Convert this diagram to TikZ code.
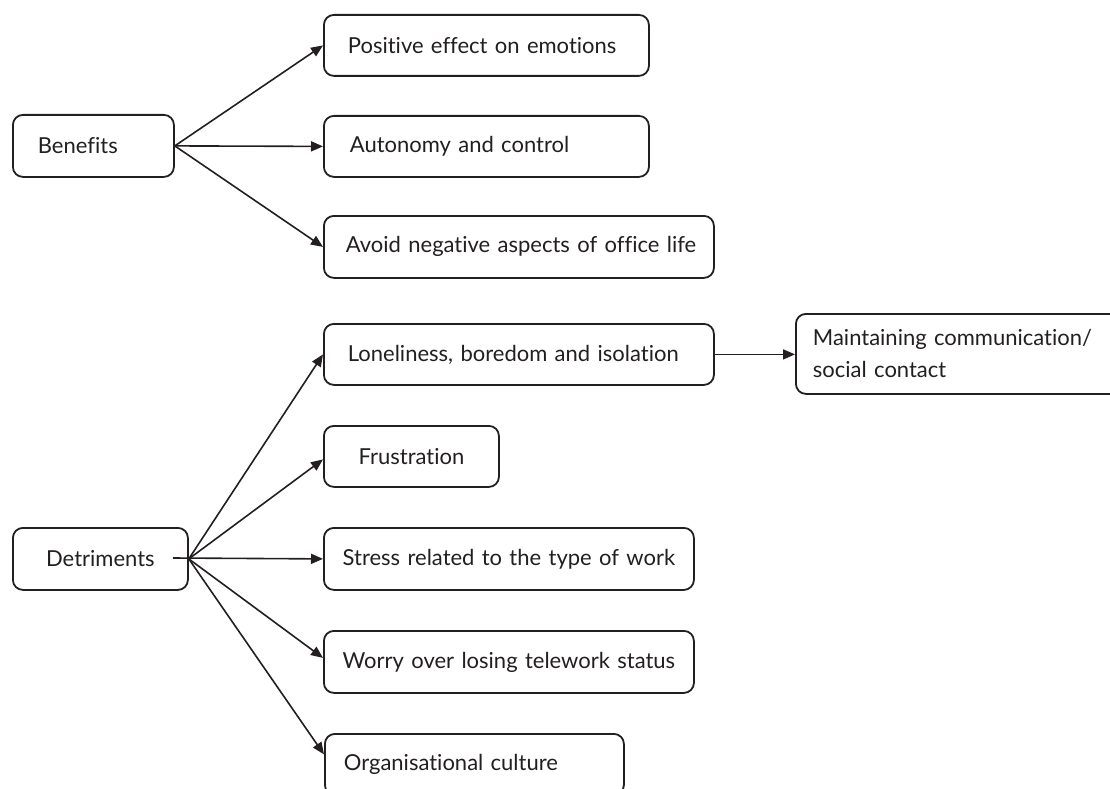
\documentclass[tikz,border=0pt]{standalone}
\usepackage{fontspec}
\setmainfont[Ligatures=NoCommon]{Lato}
\usetikzlibrary{arrows.meta}
\definecolor{ink}{HTML}{231F20}
\begin{document}
\begin{tikzpicture}[x=1pt,y=-1pt,
  box/.style={draw=ink, line width=1.8pt, rounded corners=10pt, anchor=north west,
    inner ysep=0pt, text=ink, font=\fontsize{22}{32}\selectfont},
  link/.style={draw=ink, line width=1.6pt, -{Triangle[length=12pt,width=10pt]}}
]
\useasboundingbox (0,0) rectangle (1110,789);
\clip (0,0) rectangle (1110,789);

% roots
\node[box, minimum height=62pt, inner xsep=25pt, text width=111pt, align=left] (ben) at (12,114) {\mbox{Benefits}};
\node[box, minimum height=62pt, inner xsep=10pt, text width=155pt, align=center] (det) at (12,527) {\mbox{Detriments}};

% benefits
\node[box, minimum height=61pt, inner xsep=24pt, text width=277pt, align=left] (pos) at (323,14) {\mbox{Positive effect on emotions}};
\node[box, minimum height=61pt, inner xsep=26pt, text width=273pt, align=left] (aut) at (323,115) {\mbox{Autonomy and control}};
\node[box, minimum height=62pt, inner xsep=22pt, text width=346pt, align=left] (avo) at (323,215) {\mbox{Avoid negative aspects of office life}};

% detriments
\node[box, minimum height=61pt, inner xsep=24pt, text width=342pt, align=left] (lon) at (323,323) {\mbox{Loneliness, boredom and isolation}};
\node[box, minimum height=80pt, inner xsep=17pt, text width=296pt, align=left] (mai) at (795,313) {\mbox{Maintaining communication/}\\\mbox{social contact}};
\node[box, minimum height=61pt, inner xsep=10pt, text width=155pt, align=center] (fru) at (323,425) {\mbox{Frustration}};
\node[box, minimum height=62pt, inner xsep=10pt, text width=350pt, align=center] (str) at (323,527) {\mbox{Stress related to the type of work}};
\node[box, minimum height=62pt, inner xsep=10pt, text width=350pt, align=center] (wor) at (323,630) {\mbox{Worry over losing telework status}};
\node[box, minimum height=61pt, inner xsep=19pt, text width=261pt, align=left] (org) at (324,733) {\mbox{Organisational culture}};

% free start of the horizontal detriments connector
\coordinate (detin) at (173,558);

% connectors
\draw[link] (ben.east) -- (pos.west);
\draw[link] (ben.east) -- (aut.west);
\draw[link] (ben.east) -- (avo.west);

\draw[link] (det.east) -- (lon.west);
\draw[link] (det.east) -- ([yshift=-3pt]fru.west);
\draw[link] (detin) -- (str.west);
\draw[link] (det.east) -- ([yshift=4pt]wor.west);
\draw[link] (det.east) -- ([yshift=10pt]org.west);

\draw[link] (lon.east) -- (lon.east -| mai.west);
\end{tikzpicture}
\end{document}
